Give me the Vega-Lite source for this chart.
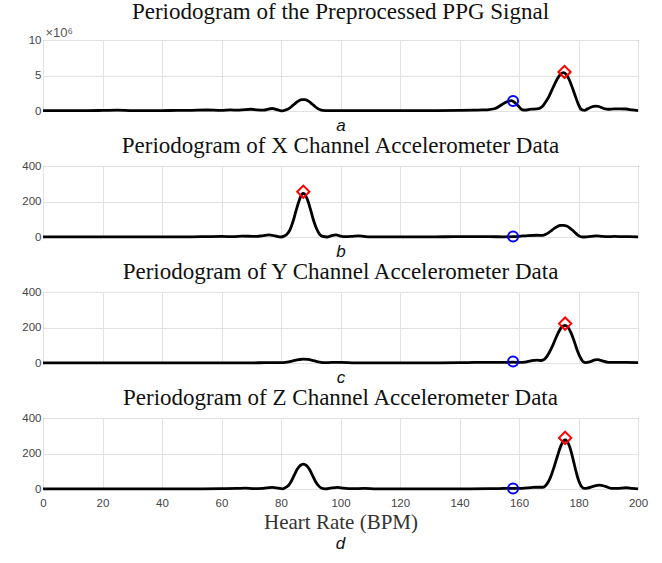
{
  "$schema": "https://vega.github.io/schema/vega-lite/v6.json",
  "padding": {"left": 21, "top": 0, "right": 20, "bottom": 2},
  "background": "white",
  "spacing": 0,
  "title": {"text": "d", "orient": "bottom", "anchor": "middle", "frame": "group", "font": "Liberation Sans", "fontStyle": "italic", "fontWeight": "normal", "fontSize": 17, "color": "#111", "offset": 3},
  "config": {
    "view": {"stroke": "#4a4a4a", "strokeWidth": 1},
    "title": {"font": "Liberation Serif", "fontSize": 23, "fontWeight": "normal", "color": "#111", "offset": 2},
    "axis": {"labelFont": "Liberation Sans", "labelFontSize": 11.5, "labelColor": "#444", "gridColor": "#e2e2e2", "gridWidth": 1, "ticks": false, "domain": false}
  },
  "datasets": {
    "ppg": [
      {"hr": 0, "p": 0.05}, {"hr": 5, "p": 0.05}, {"hr": 10, "p": 0.06}, {"hr": 15, "p": 0.05}, {"hr": 20, "p": 0.08}, {"hr": 25, "p": 0.12}, {"hr": 30, "p": 0.06}, {"hr": 35, "p": 0.05}, {"hr": 40, "p": 0.06}, {"hr": 45, "p": 0.08}, {"hr": 50, "p": 0.1}, {"hr": 55, "p": 0.14}, {"hr": 60, "p": 0.08}, {"hr": 63, "p": 0.15}, {"hr": 66, "p": 0.12}, {"hr": 70, "p": 0.25}, {"hr": 72, "p": 0.15}, {"hr": 74, "p": 0.12}, {"hr": 77, "p": 0.35}, {"hr": 79, "p": 0.15}, {"hr": 80.5, "p": 0.02}, {"hr": 82, "p": 0.2}, {"hr": 83, "p": 0.45}, {"hr": 84, "p": 0.8}, {"hr": 85, "p": 1.15}, {"hr": 86, "p": 1.45}, {"hr": 87, "p": 1.6}, {"hr": 88, "p": 1.6}, {"hr": 89, "p": 1.45}, {"hr": 90, "p": 1.15}, {"hr": 91, "p": 0.8}, {"hr": 92, "p": 0.45}, {"hr": 93, "p": 0.2}, {"hr": 94, "p": 0.08}, {"hr": 96, "p": 0.05}, {"hr": 100, "p": 0.05}, {"hr": 110, "p": 0.05}, {"hr": 120, "p": 0.05}, {"hr": 130, "p": 0.06}, {"hr": 140, "p": 0.1}, {"hr": 145, "p": 0.12}, {"hr": 148, "p": 0.15}, {"hr": 150, "p": 0.2}, {"hr": 152, "p": 0.35}, {"hr": 153.5, "p": 0.7}, {"hr": 155, "p": 1.1}, {"hr": 156.5, "p": 1.4}, {"hr": 157.5, "p": 1.45}, {"hr": 158.5, "p": 1.2}, {"hr": 160, "p": 0.6}, {"hr": 161, "p": 0.2}, {"hr": 162, "p": 0.12}, {"hr": 164, "p": 0.25}, {"hr": 166, "p": 0.3}, {"hr": 167, "p": 0.4}, {"hr": 168, "p": 0.7}, {"hr": 169, "p": 1.3}, {"hr": 170, "p": 2.0}, {"hr": 171, "p": 2.9}, {"hr": 172, "p": 3.8}, {"hr": 173, "p": 4.6}, {"hr": 174, "p": 5.2}, {"hr": 175, "p": 5.4}, {"hr": 176, "p": 5.1}, {"hr": 177, "p": 4.3}, {"hr": 178, "p": 3.2}, {"hr": 179, "p": 2.0}, {"hr": 180, "p": 0.9}, {"hr": 181, "p": 0.2}, {"hr": 182, "p": 0.1}, {"hr": 183, "p": 0.3}, {"hr": 184, "p": 0.5}, {"hr": 185, "p": 0.65}, {"hr": 186, "p": 0.7}, {"hr": 187, "p": 0.6}, {"hr": 188, "p": 0.45}, {"hr": 189, "p": 0.3}, {"hr": 190, "p": 0.25}, {"hr": 192, "p": 0.3}, {"hr": 194, "p": 0.3}, {"hr": 196, "p": 0.28}, {"hr": 198, "p": 0.15}, {"hr": 200, "p": 0.05}
    ],
    "accx": [
      {"hr": 0, "p": 1}, {"hr": 10, "p": 1}, {"hr": 20, "p": 1}, {"hr": 30, "p": 1}, {"hr": 40, "p": 1}, {"hr": 50, "p": 1}, {"hr": 55, "p": 2}, {"hr": 60, "p": 3}, {"hr": 64, "p": 2}, {"hr": 67, "p": 5}, {"hr": 70, "p": 4}, {"hr": 72, "p": 3}, {"hr": 74, "p": 8}, {"hr": 76, "p": 12}, {"hr": 78, "p": 6}, {"hr": 80, "p": 0}, {"hr": 81, "p": 5}, {"hr": 82, "p": 15}, {"hr": 83, "p": 40}, {"hr": 84, "p": 85}, {"hr": 85, "p": 145}, {"hr": 86, "p": 200}, {"hr": 87, "p": 240}, {"hr": 87.5, "p": 245}, {"hr": 88, "p": 240}, {"hr": 89, "p": 205}, {"hr": 90, "p": 150}, {"hr": 91, "p": 90}, {"hr": 92, "p": 45}, {"hr": 93, "p": 15}, {"hr": 94, "p": 3}, {"hr": 95.5, "p": 0}, {"hr": 97, "p": 8}, {"hr": 98.5, "p": 12}, {"hr": 100, "p": 5}, {"hr": 102, "p": 2}, {"hr": 104, "p": 4}, {"hr": 106, "p": 6}, {"hr": 108, "p": 3}, {"hr": 110, "p": 1}, {"hr": 120, "p": 1}, {"hr": 130, "p": 1}, {"hr": 140, "p": 2}, {"hr": 150, "p": 2}, {"hr": 155, "p": 1}, {"hr": 158, "p": 2}, {"hr": 160, "p": 4}, {"hr": 163, "p": 8}, {"hr": 166, "p": 10}, {"hr": 168, "p": 9}, {"hr": 169, "p": 15}, {"hr": 170, "p": 25}, {"hr": 171, "p": 38}, {"hr": 172, "p": 50}, {"hr": 173, "p": 60}, {"hr": 174, "p": 65}, {"hr": 175, "p": 66}, {"hr": 176, "p": 62}, {"hr": 177, "p": 52}, {"hr": 178, "p": 38}, {"hr": 179, "p": 22}, {"hr": 180, "p": 8}, {"hr": 181, "p": 1}, {"hr": 182, "p": 0}, {"hr": 184, "p": 3}, {"hr": 185, "p": 5}, {"hr": 186, "p": 6}, {"hr": 188, "p": 3}, {"hr": 190, "p": 2}, {"hr": 192, "p": 3}, {"hr": 195, "p": 2}, {"hr": 200, "p": 1}
    ],
    "accy": [
      {"hr": 0, "p": 1}, {"hr": 10, "p": 1}, {"hr": 20, "p": 1}, {"hr": 30, "p": 1}, {"hr": 40, "p": 1}, {"hr": 50, "p": 1}, {"hr": 60, "p": 1}, {"hr": 70, "p": 1}, {"hr": 75, "p": 2}, {"hr": 80, "p": 2}, {"hr": 82, "p": 5}, {"hr": 84, "p": 12}, {"hr": 86, "p": 19}, {"hr": 87.5, "p": 22}, {"hr": 89, "p": 20}, {"hr": 91, "p": 13}, {"hr": 93, "p": 5}, {"hr": 95, "p": 2}, {"hr": 97, "p": 3}, {"hr": 100, "p": 3}, {"hr": 105, "p": 1}, {"hr": 110, "p": 1}, {"hr": 120, "p": 1}, {"hr": 130, "p": 1}, {"hr": 140, "p": 2}, {"hr": 145, "p": 3}, {"hr": 150, "p": 4}, {"hr": 155, "p": 3}, {"hr": 158, "p": 5}, {"hr": 160, "p": 3}, {"hr": 162, "p": 5}, {"hr": 164, "p": 12}, {"hr": 166, "p": 16}, {"hr": 167.5, "p": 14}, {"hr": 168.5, "p": 20}, {"hr": 169.5, "p": 40}, {"hr": 170.5, "p": 70}, {"hr": 171.5, "p": 105}, {"hr": 172.5, "p": 145}, {"hr": 173.5, "p": 180}, {"hr": 174.5, "p": 205}, {"hr": 175.5, "p": 212}, {"hr": 176.5, "p": 200}, {"hr": 177.5, "p": 170}, {"hr": 178.5, "p": 125}, {"hr": 179.5, "p": 75}, {"hr": 180.5, "p": 35}, {"hr": 181.5, "p": 8}, {"hr": 182.5, "p": 2}, {"hr": 184, "p": 8}, {"hr": 185.5, "p": 17}, {"hr": 186.5, "p": 19}, {"hr": 188, "p": 12}, {"hr": 190, "p": 4}, {"hr": 193, "p": 3}, {"hr": 196, "p": 3}, {"hr": 200, "p": 2}
    ],
    "accz": [
      {"hr": 0, "p": 1}, {"hr": 10, "p": 1}, {"hr": 20, "p": 1}, {"hr": 30, "p": 1}, {"hr": 40, "p": 1}, {"hr": 50, "p": 1}, {"hr": 60, "p": 2}, {"hr": 65, "p": 3}, {"hr": 68, "p": 5}, {"hr": 71, "p": 2}, {"hr": 74, "p": 4}, {"hr": 77, "p": 9}, {"hr": 79, "p": 5}, {"hr": 80.5, "p": 1}, {"hr": 81.5, "p": 8}, {"hr": 82.5, "p": 20}, {"hr": 83.5, "p": 45}, {"hr": 84.5, "p": 80}, {"hr": 85.5, "p": 112}, {"hr": 86.5, "p": 133}, {"hr": 87.5, "p": 140}, {"hr": 88.5, "p": 133}, {"hr": 89.5, "p": 112}, {"hr": 90.5, "p": 80}, {"hr": 91.5, "p": 45}, {"hr": 92.5, "p": 20}, {"hr": 93.5, "p": 6}, {"hr": 95, "p": 1}, {"hr": 97, "p": 6}, {"hr": 99, "p": 9}, {"hr": 101, "p": 5}, {"hr": 104, "p": 2}, {"hr": 108, "p": 3}, {"hr": 112, "p": 1}, {"hr": 120, "p": 1}, {"hr": 130, "p": 1}, {"hr": 140, "p": 1}, {"hr": 150, "p": 2}, {"hr": 155, "p": 3}, {"hr": 158, "p": 4}, {"hr": 161, "p": 4}, {"hr": 164, "p": 8}, {"hr": 166, "p": 10}, {"hr": 168, "p": 10}, {"hr": 169, "p": 20}, {"hr": 170, "p": 45}, {"hr": 171, "p": 85}, {"hr": 172, "p": 135}, {"hr": 173, "p": 190}, {"hr": 174, "p": 240}, {"hr": 175, "p": 272}, {"hr": 175.5, "p": 276}, {"hr": 176, "p": 272}, {"hr": 177, "p": 240}, {"hr": 178, "p": 180}, {"hr": 179, "p": 110}, {"hr": 180, "p": 50}, {"hr": 181, "p": 14}, {"hr": 182, "p": 3}, {"hr": 183, "p": 5}, {"hr": 185, "p": 15}, {"hr": 187, "p": 22}, {"hr": 189, "p": 15}, {"hr": 191, "p": 4}, {"hr": 193, "p": 3}, {"hr": 196, "p": 7}, {"hr": 198, "p": 4}, {"hr": 200, "p": 1}
    ],
    "marks": [
      {"panel": "a", "kind": "circle", "hr": 158, "p": 1.4}, {"panel": "a", "kind": "diamond", "hr": 175.3, "p": 5.5},
      {"panel": "b", "kind": "circle", "hr": 158, "p": 3}, {"panel": "b", "kind": "diamond", "hr": 87.5, "p": 255},
      {"panel": "c", "kind": "circle", "hr": 158, "p": 8}, {"panel": "c", "kind": "diamond", "hr": 175.5, "p": 222},
      {"panel": "d", "kind": "circle", "hr": 158, "p": 3}, {"panel": "d", "kind": "diamond", "hr": 175.5, "p": 288}
    ]
  },
  "vconcat": [
    {
      "title": "Periodogram of the Preprocessed PPG Signal",
      "width": 595, "height": 71,
      "encoding": {
        "x": {"field": "hr", "type": "quantitative", "scale": {"domain": [0, 200], "nice": false}, "axis": {"values": [0,20,40,60,80,100,120,140,160,180,200], "labels": false, "title": "a", "titleFont": "Liberation Sans", "titleFontStyle": "italic", "titleFontWeight": "normal", "titleFontSize": 17, "titleColor": "#111", "titlePadding": 6}},
        "y": {"field": "p", "type": "quantitative", "scale": {"domain": [0, 10], "nice": false}, "axis": {"values": [0, 5, 10], "title": "×10⁶", "titleAngle": 0, "titleX": 2, "titleY": -1, "titleAlign": "left", "titleBaseline": "bottom", "titleFont": "Liberation Sans", "titleFontSize": 13, "titleFontWeight": "normal", "titleColor": "#555"}}
      },
      "layer": [
        {"data": {"name": "ppg"}, "mark": {"type": "line", "color": "#000", "strokeWidth": 2.8, "interpolate": "monotone"}},
        {"data": {"name": "marks"}, "transform": [{"filter": "datum.panel == 'a'"}], "mark": {"type": "point", "filled": false, "strokeWidth": 2, "opacity": 1},
         "encoding": {"shape": {"field": "kind", "type": "nominal", "scale": {"domain": ["circle", "diamond"], "range": ["circle", "diamond"]}, "legend": null},
                      "color": {"field": "kind", "type": "nominal", "scale": {"domain": ["circle", "diamond"], "range": ["#0000ff", "#ff0000"]}, "legend": null},
                      "size": {"field": "kind", "type": "nominal", "scale": {"domain": ["circle", "diamond"], "range": [100, 150]}, "legend": null}}}
      ]
    },
    {
      "title": "Periodogram of X Channel Accelerometer Data",
      "width": 595, "height": 71,
      "encoding": {
        "x": {"field": "hr", "type": "quantitative", "scale": {"domain": [0, 200], "nice": false}, "axis": {"values": [0,20,40,60,80,100,120,140,160,180,200], "labels": false, "title": "b", "titleFont": "Liberation Sans", "titleFontStyle": "italic", "titleFontWeight": "normal", "titleFontSize": 17, "titleColor": "#111", "titlePadding": 6}},
        "y": {"field": "p", "type": "quantitative", "scale": {"domain": [0, 400], "nice": false}, "axis": {"values": [0, 200, 400], "title": null}}
      },
      "layer": [
        {"data": {"name": "accx"}, "mark": {"type": "line", "color": "#000", "strokeWidth": 2.8, "interpolate": "monotone"}},
        {"data": {"name": "marks"}, "transform": [{"filter": "datum.panel == 'b'"}], "mark": {"type": "point", "filled": false, "strokeWidth": 2, "opacity": 1},
         "encoding": {"shape": {"field": "kind", "type": "nominal", "scale": {"domain": ["circle", "diamond"], "range": ["circle", "diamond"]}, "legend": null},
                      "color": {"field": "kind", "type": "nominal", "scale": {"domain": ["circle", "diamond"], "range": ["#0000ff", "#ff0000"]}, "legend": null},
                      "size": {"field": "kind", "type": "nominal", "scale": {"domain": ["circle", "diamond"], "range": [100, 150]}, "legend": null}}}
      ]
    },
    {
      "title": "Periodogram of Y Channel Accelerometer Data",
      "width": 595, "height": 71,
      "encoding": {
        "x": {"field": "hr", "type": "quantitative", "scale": {"domain": [0, 200], "nice": false}, "axis": {"values": [0,20,40,60,80,100,120,140,160,180,200], "labels": false, "title": "c", "titleFont": "Liberation Sans", "titleFontStyle": "italic", "titleFontWeight": "normal", "titleFontSize": 17, "titleColor": "#111", "titlePadding": 6}},
        "y": {"field": "p", "type": "quantitative", "scale": {"domain": [0, 400], "nice": false}, "axis": {"values": [0, 200, 400], "title": null}}
      },
      "layer": [
        {"data": {"name": "accy"}, "mark": {"type": "line", "color": "#000", "strokeWidth": 2.8, "interpolate": "monotone"}},
        {"data": {"name": "marks"}, "transform": [{"filter": "datum.panel == 'c'"}], "mark": {"type": "point", "filled": false, "strokeWidth": 2, "opacity": 1},
         "encoding": {"shape": {"field": "kind", "type": "nominal", "scale": {"domain": ["circle", "diamond"], "range": ["circle", "diamond"]}, "legend": null},
                      "color": {"field": "kind", "type": "nominal", "scale": {"domain": ["circle", "diamond"], "range": ["#0000ff", "#ff0000"]}, "legend": null},
                      "size": {"field": "kind", "type": "nominal", "scale": {"domain": ["circle", "diamond"], "range": [100, 150]}, "legend": null}}}
      ]
    },
    {
      "title": "Periodogram of Z Channel Accelerometer Data",
      "width": 595, "height": 71,
      "encoding": {
        "x": {"field": "hr", "type": "quantitative", "scale": {"domain": [0, 200], "nice": false}, "axis": {"values": [0,20,40,60,80,100,120,140,160,180,200], "labelPadding": 8, "labelFlush": false, "title": "Heart Rate (BPM)", "titleFont": "Liberation Serif", "titleFontWeight": "normal", "titleFontSize": 21, "titleColor": "#333", "titlePadding": 3}},
        "y": {"field": "p", "type": "quantitative", "scale": {"domain": [0, 400], "nice": false}, "axis": {"values": [0, 200, 400], "title": null}}
      },
      "layer": [
        {"data": {"name": "accz"}, "mark": {"type": "line", "color": "#000", "strokeWidth": 2.8, "interpolate": "monotone"}},
        {"data": {"name": "marks"}, "transform": [{"filter": "datum.panel == 'd'"}], "mark": {"type": "point", "filled": false, "strokeWidth": 2, "opacity": 1},
         "encoding": {"shape": {"field": "kind", "type": "nominal", "scale": {"domain": ["circle", "diamond"], "range": ["circle", "diamond"]}, "legend": null},
                      "color": {"field": "kind", "type": "nominal", "scale": {"domain": ["circle", "diamond"], "range": ["#0000ff", "#ff0000"]}, "legend": null},
                      "size": {"field": "kind", "type": "nominal", "scale": {"domain": ["circle", "diamond"], "range": [100, 150]}, "legend": null}}}
      ]
    }
  ]
}
